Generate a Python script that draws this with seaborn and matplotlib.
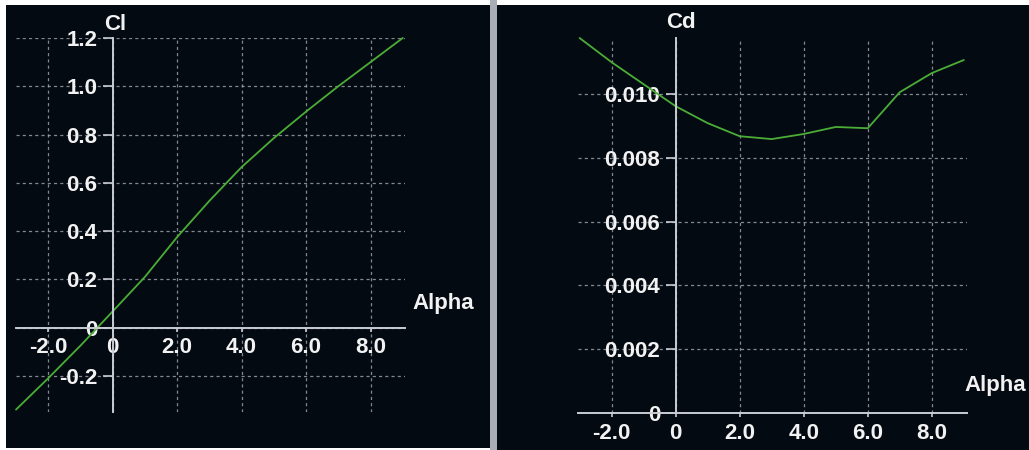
import matplotlib
matplotlib.use("Agg")
import matplotlib.pyplot as plt
from matplotlib.patches import Rectangle
import seaborn as sns
import pandas as pd

# --- data ---
alpha = [-3, -2, -1, 0, 1, 2, 3, 4, 5, 6, 7, 8, 9]
cl = [-0.34, -0.21, -0.075, 0.067, 0.21, 0.375, 0.525, 0.665, 0.785, 0.895, 1.0, 1.10, 1.20]
cd = [0.01176, 0.0110, 0.01031, 0.00962, 0.00909, 0.00868, 0.00859, 0.00875,
      0.00897, 0.00893, 0.01006, 0.01066, 0.01107]

x_ticks = [-2, 0, 2, 4, 6, 8]
x_labels = ["-2.0", "0", "2.0", "4.0", "6.0", "8.0"]
cl_ticks = [-0.2, 0, 0.2, 0.4, 0.6, 0.8, 1.0, 1.2]
cl_labels = ["-0.2", "0", "0.2", "0.4", "0.6", "0.8", "1.0", "1.2"]
cd_ticks = [0, 0.002, 0.004, 0.006, 0.008, 0.010]
cd_labels = ["0", "0.002", "0.004", "0.006", "0.008", "0.010"]

df = pd.DataFrame({"Alpha": alpha, "Cl": cl, "Cd": cd})

BG = "#040a12"
GRID = "#a4a9b0"
AXIS = "#c9ccd2"
TEXT = "#f2f2f2"
GREEN = "#4aae36"

sns.set_theme(style="dark")
plt.rcParams["font.family"] = ["Liberation Sans", "DejaVu Sans"]

W, H = 1029, 450
fig = plt.figure(figsize=(W / 100, H / 100), dpi=100, facecolor="white")


def px_rect(x0, y0, x1, y1, color):
    # rectangle given in pixel coords (top-left origin)
    fig.add_artist(Rectangle((x0 / W, 1 - y1 / H), (x1 - x0) / W, (y1 - y0) / H,
                             transform=fig.transFigure, color=color, zorder=0, lw=0))


px_rect(6, 5, 490, 448, BG)
px_rect(490, 0, 497, 450, "#a9adb5")
px_rect(497, 5, 1029, 450, BG)


def style_axes(ax, xlim, ylim, yticks, ylabels):
    ax.set_facecolor("none")
    ax.set_xlim(*xlim)
    ax.set_ylim(*ylim)
    for s in ["top", "right"]:
        ax.spines[s].set_visible(False)
    for s in ["left", "bottom"]:
        ax.spines[s].set_position(("data", 0))
        ax.spines[s].set_color(AXIS)
        ax.spines[s].set_linewidth(1.4)
    ax.set_xticks(x_ticks, x_labels)
    ax.set_yticks(yticks, ylabels)
    ax.grid(True, color=GRID, linestyle=(0, (2.5, 2.5)), linewidth=0.9, alpha=0.8)
    ax.tick_params(axis="y", length=7, width=1.2, color=AXIS, pad=4,
                   labelcolor=TEXT, labelsize=16, left=True)
    ax.tick_params(axis="x", length=3, width=1.2, color=AXIS, pad=4,
                   labelcolor=TEXT, labelsize=16, bottom=True)
    for lab in ax.get_xticklabels() + ax.get_yticklabels():
        lab.set_fontweight("bold")
    ax.set_xlabel("")
    ax.set_ylabel("")


# left panel: Cl
ax1 = fig.add_axes([16 / W, 1 - 412 / H, 389 / W, 374 / H])
sns.lineplot(data=df, x="Alpha", y="Cl", ax=ax1, color=GREEN, lw=1.3, clip_on=False)
style_axes(ax1, (-3.0, 9.07), (-0.35, 1.2), cl_ticks, cl_labels)

# right panel: Cd
ax2 = fig.add_axes([578 / W, 1 - 413 / H, 389 / W, 375 / H])
sns.lineplot(data=df, x="Alpha", y="Cd", ax=ax2, color=GREEN, lw=1.3, clip_on=False)
style_axes(ax2, (-3.05, 9.1), (0, 0.01176), cd_ticks, cd_labels)

txt = dict(color=TEXT, fontsize=16, fontweight="bold", va="center")
fig.text(115 / W, 1 - 25 / H, "Cl", ha="center", **txt)
fig.text(412 / W, 1 - 303 / H, "Alpha", ha="left", **txt)
fig.text(681 / W, 1 - 23 / H, "Cd", ha="center", **txt)
fig.text(1026 / W, 1 - 386 / H, "Alpha", ha="right", **txt)

fig.savefig("out.png", dpi=100, facecolor="white")
